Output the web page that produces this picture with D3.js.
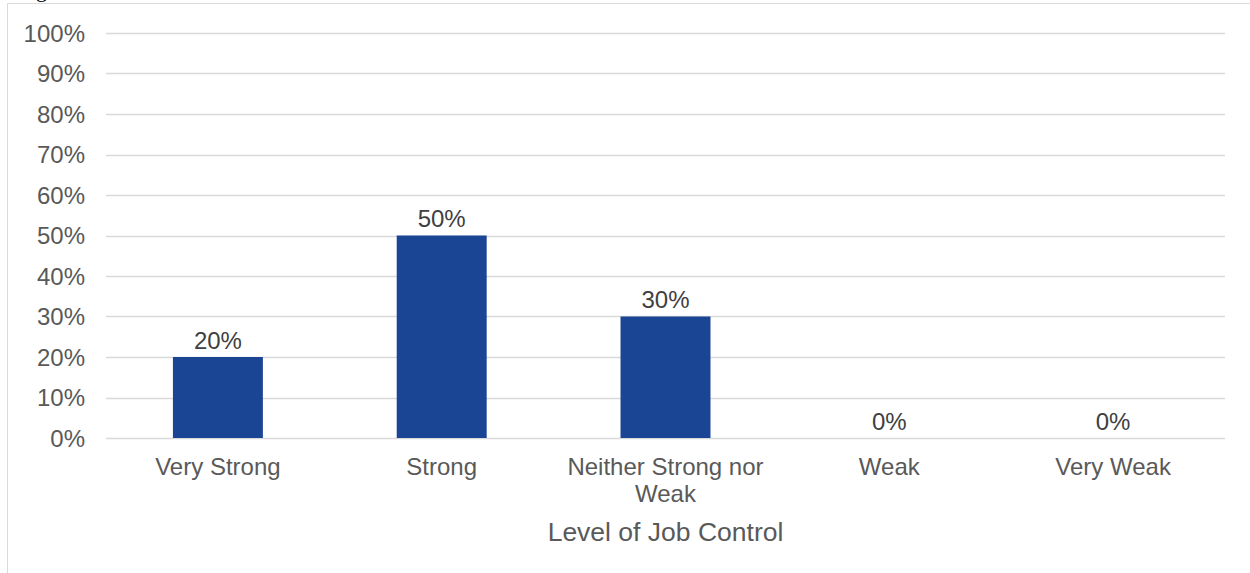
<!DOCTYPE html>
<html>
<head>
<meta charset="utf-8">
<script src="https://cdn.jsdelivr.net/npm/d3@7"></script>
<style>
  html, body { margin: 0; padding: 0; background: #fff; }
  svg { display: block; }
</style>
</head>
<body>
<svg id="chart" width="1250" height="573"></svg>
<script>
// Job control survey: share of respondents per level
const categories = ["Very Strong", "Strong", "Neither Strong nor Weak", "Weak", "Very Weak"];
const categoryLines = [["Very Strong"], ["Strong"], ["Neither Strong nor", "Weak"], ["Weak"], ["Very Weak"]];
const shares = [0.20, 0.50, 0.30, 0.00, 0.00];
const yTicks = [0, 0.1, 0.2, 0.3, 0.4, 0.5, 0.6, 0.7, 0.8, 0.9, 1.0];
const xTitle = "Level of Job Control";

const svg = d3.select("#chart");
const font = "'Liberation Sans', Arial, sans-serif";

// chart frame
svg.append("path")
  .attr("d", "M7.5,573 V3.5 H1250")
  .attr("fill", "none")
  .attr("stroke", "#d9d9d9")
  .attr("stroke-width", 1);

// caption fragment above the frame
svg.append("text")
  .attr("x", 36).attr("y", -3)
  .attr("font-family", "'Liberation Serif', 'Times New Roman', serif")
  .attr("font-size", 22)
  .attr("fill", "#000")
  .text("g");

const plotLeft = 106, plotRight = 1225, plotTop = 33, plotBottom = 438;

const x = d3.scaleBand().domain(categories).range([plotLeft, plotRight]).paddingInner(0.598).paddingOuter(0.299);
const band = d3.scaleBand().domain(categories).range([plotLeft, plotRight]);
const y = d3.scaleLinear().domain([0, 1]).range([plotBottom, plotTop]);

// gridlines
svg.append("g").selectAll("line").data(yTicks).join("line")
  .attr("x1", plotLeft).attr("x2", plotRight)
  .attr("y1", d => Math.round(y(d)) + 0.5).attr("y2", d => Math.round(y(d)) + 0.5)
  .attr("stroke", "#d9d9d9").attr("stroke-width", 1.3);

// y tick labels
svg.append("g").selectAll("text").data(yTicks).join("text")
  .attr("x", 85).attr("y", d => y(d) + 8.5)
  .attr("text-anchor", "end")
  .attr("font-family", font).attr("font-size", 24)
  .attr("fill", "#595959")
  .text(d => d3.format(".0%")(d));

// bars
svg.append("g").selectAll("rect").data(shares).join("rect")
  .attr("x", (d, i) => x(categories[i]))
  .attr("width", x.bandwidth())
  .attr("y", d => y(d))
  .attr("height", d => plotBottom - y(d))
  .attr("fill", "#1a4494");

// value labels
svg.append("g").selectAll("text").data(shares).join("text")
  .attr("x", (d, i) => band(categories[i]) + band.bandwidth() / 2)
  .attr("y", d => y(d) - 8.5)
  .attr("text-anchor", "middle")
  .attr("font-family", font).attr("font-size", 24)
  .attr("fill", "#404040")
  .text(d => d3.format(".0%")(d));

// category labels
const cat = svg.append("g").selectAll("text").data(categoryLines).join("text")
  .attr("text-anchor", "middle")
  .attr("font-family", font).attr("font-size", 24)
  .attr("fill", "#595959");
cat.each(function(lines, i) {
  const cx = band(categories[i]) + band.bandwidth() / 2;
  d3.select(this).selectAll("tspan").data(lines).join("tspan")
    .attr("x", cx)
    .attr("y", (l, j) => 474.5 + j * 27.5)
    .text(l => l);
});

// axis title
svg.append("text")
  .attr("x", band(categories[2]) + band.bandwidth() / 2)
  .attr("y", 540.5)
  .attr("text-anchor", "middle")
  .attr("font-family", font).attr("font-size", 26.5)
  .attr("fill", "#595959")
  .text(xTitle);
</script>
</body>
</html>
